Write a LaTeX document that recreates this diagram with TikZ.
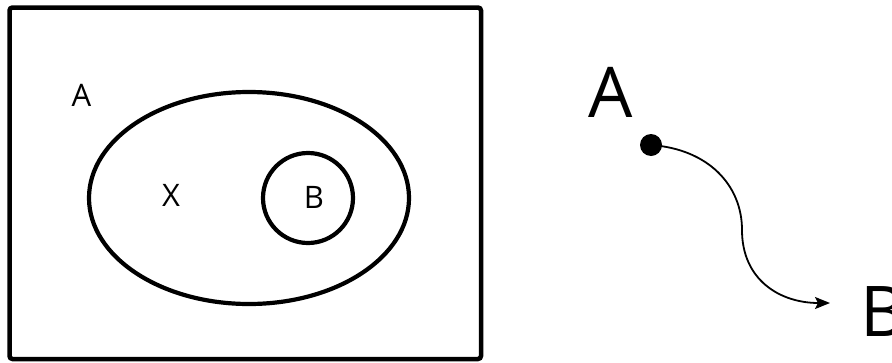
\documentclass[tikz,border=0pt]{standalone}
\usepackage{fontspec}
\setmainfont{Open Sans}
\usetikzlibrary{arrows.meta,positioning}

\begin{document}
\begin{tikzpicture}[x=1pt,y=-1pt,>={Stealth[length=15pt,width=12pt,inset=3pt]},
  lbl/.style={inner sep=0pt,font=\fontsize{31}{31}\selectfont},
  biglbl/.style={inner sep=0pt,font=\fontsize{70}{70}\selectfont}]
\useasboundingbox (0,0) rectangle (892,362);
% set diagram
\draw[line width=4.5pt,rounded corners=3pt] (9.5,7.5) rectangle (481,359);
\draw[line width=4.2pt] (249,198) ellipse [x radius=160pt,y radius=106pt];
\draw[line width=4.2pt] (308,198) circle (45pt);
\node[lbl] (setA) at (81.5,95.5) {A};
\node[lbl] (setX) at (171,195.5) {X};
\node[lbl] (setB) at (314,197) {B};
% mapping A to B
\node[biglbl] (ptA) at (611,92) {A};
\node[biglbl,anchor=west] (ptB) at (860,312) {B};
\node[circle,fill,inner sep=0pt,minimum size=22pt] (dotA) at (651,145) {};
\coordinate (endB) at (830,303);
\draw[->,line width=1.8pt] (dotA.center) .. controls (708,149) and (742,185) .. (742,230)
  .. controls (742,280) and (780,303) .. (endB);
\end{tikzpicture}
\end{document}
